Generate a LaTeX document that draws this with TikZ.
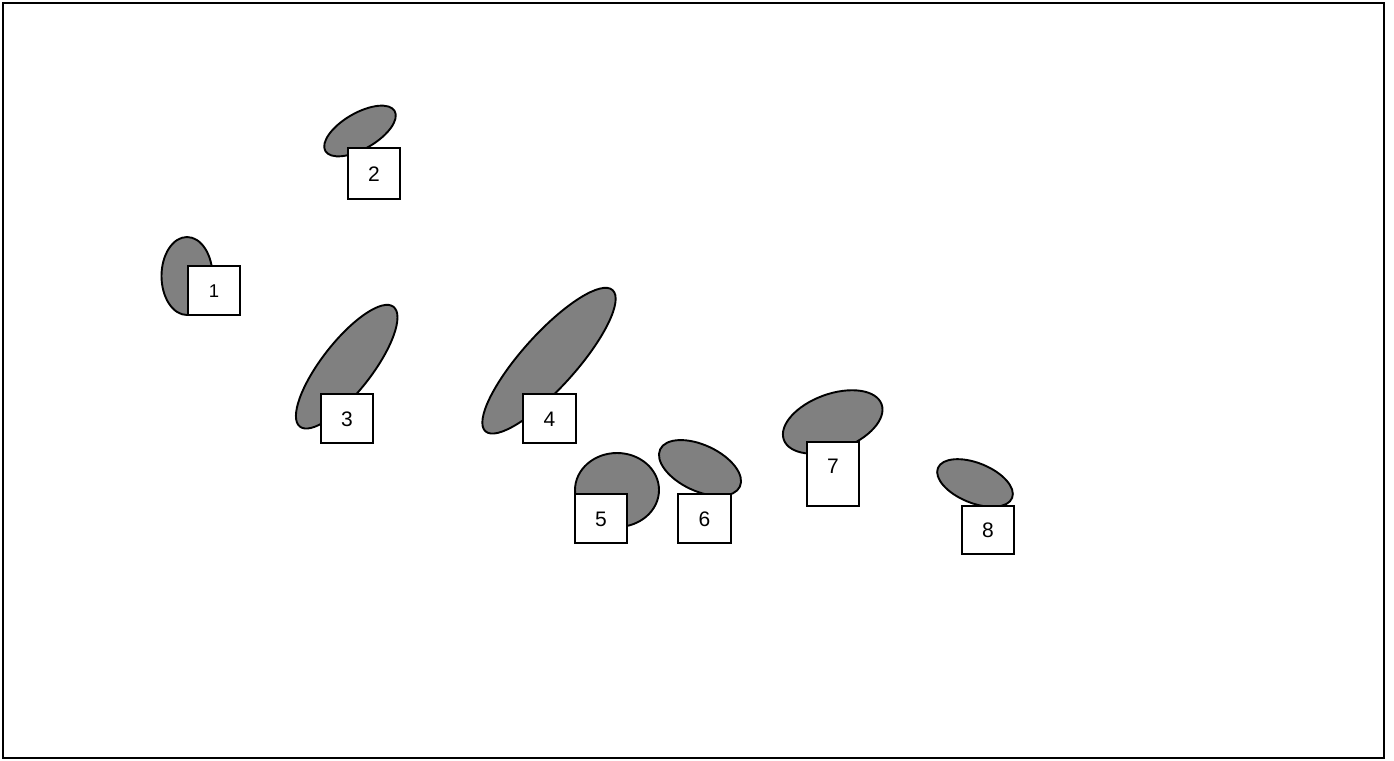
\documentclass[tikz,border=0pt]{standalone}
\usepackage{fontspec}
\setmainfont{Liberation Sans}
\usetikzlibrary{shapes.geometric}
\definecolor{blobgray}{RGB}{128,128,128}

\begin{document}
\begin{tikzpicture}[x=1pt, y=-1pt,
  blob/.style={draw, ellipse, fill=blobgray, line width=1.9pt, inner sep=0pt, outer sep=0pt},
  tag/.style={draw, fill=white, line width=1.9pt, inner sep=0pt, minimum width=52pt, minimum height=49pt,
    font=\fontsize{21}{25}\selectfont, text height=15pt, text depth=0pt}
]
\useasboundingbox (0,0) rectangle (1394,760);
\draw[line width=2.3pt] (3,3) rectangle (1384,758);

% blobs first, tags on top
\node[blob, minimum width=51pt, minimum height=78pt] (e1) at (187,276) {};
\node[tag, font=\fontsize{18.5}{22}\selectfont, text height=13pt] (b1) at (214,290.5) {1};

\node[blob, minimum width=80pt, minimum height=36pt, rotate=30] (e2) at (360,131) {};
\node[tag, minimum height=51pt] (b2) at (374,173.5) {2};

\node[blob, minimum width=152pt, minimum height=50pt, rotate=52] (e3) at (346.7,366.7) {};
\node[tag] (b3) at (347,418.5) {3};

\node[blob, minimum width=190pt, minimum height=54pt, rotate=48] (e4) at (549,360.7) {};
\node[tag, minimum width=53pt] (b4) at (549.5,418.5) {4};

\node[blob, minimum width=84pt, minimum height=74pt] (e5) at (617,490) {};
\node[tag] (b5) at (601,518.8) {5};

\node[blob, minimum width=88pt, minimum height=46pt, rotate=-25] (e6) at (700,468) {};
\node[tag, minimum width=53pt] (b6) at (704.5,518.5) {6};

\node[blob, minimum width=104pt, minimum height=56pt, rotate=20] (e7) at (832.7,422) {};
\node[tag, minimum height=64pt, text depth=17pt] (b7) at (833,474) {7};

\node[blob, minimum width=80pt, minimum height=40pt, rotate=-22] (e8) at (975,483) {};
\node[tag, minimum height=48pt] (b8) at (988,530) {8};
\end{tikzpicture}
\end{document}
